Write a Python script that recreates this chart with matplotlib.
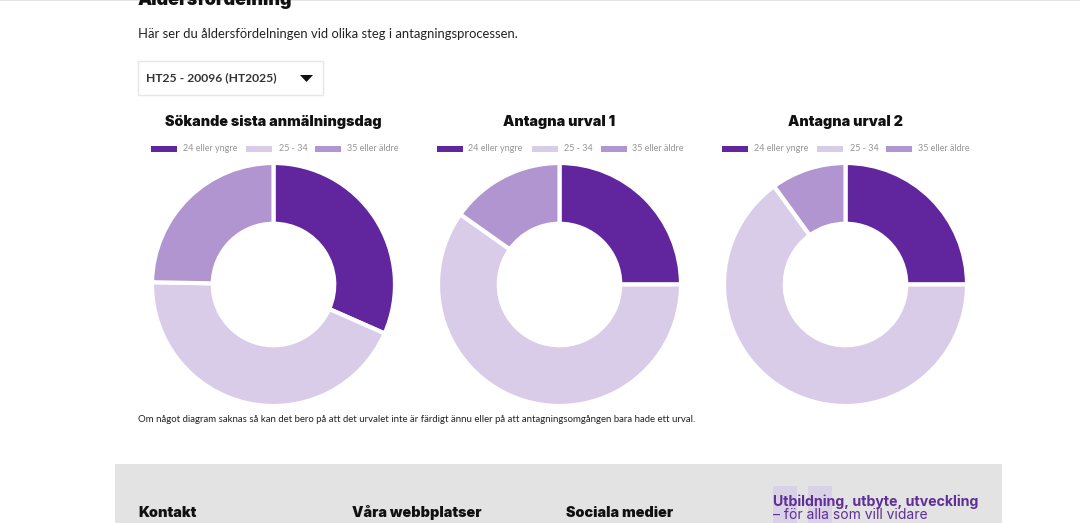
import matplotlib
matplotlib.use('Agg')
import matplotlib.pyplot as plt
from matplotlib.patches import Rectangle, Polygon

W, H = 1080, 523

chart_titles = ['Sökande sista anmälningsdag', 'Antagna urval 1', 'Antagna urval 2']
age_groups = ['24 eller yngre', '25 - 34', '35 eller äldre']
sokande = [31.6, 43.7, 24.7]
urval_1 = [25.0, 59.8, 15.2]
urval_2 = [25.0, 65.0, 10.0]
colors = ['#61269e', '#d9cce8', '#b095d0']

HEAD = 'Inter'
BODY = 'Lato'

fig = plt.figure(figsize=(W / 100, H / 100), dpi=100, facecolor='white')

# whole page as one pixel axes for the html bits around the charts
bg = fig.add_axes([0, 0, 1, 1])
bg.set_xlim(0, W)
bg.set_ylim(H, 0)
bg.axis('off')

bg.add_patch(Rectangle((0, 0), W, 1, color='#e4e4e4', lw=0))
bg.text(138, 5, 'Åldersfördelning', fontsize=12.9, fontweight='black', family=HEAD, color='#111111')
bg.text(138, 34, 'Här ser du åldersfördelningen vid olika steg i antagningsprocessen.',
        fontsize=9.36, family=BODY, color='#222222', va='center')

# dropdown
bg.add_patch(Rectangle((138, 61), 185, 34, fc='white', ec='#e6e6e6', lw=1))
bg.text(146, 78, 'HT25 - 20096 (HT2025)', fontsize=8.75, fontweight='bold', family=BODY,
        color='#333333', va='center')
bg.add_patch(Polygon([(300, 75), (313, 75), (306.5, 82)], color='#111111', lw=0))

# footer
bg.add_patch(Rectangle((115, 464), 887, 59, color='#e3e3e3', lw=0))
bg.add_patch(Rectangle((773, 486), 24, 37, color='#d9d2e6', lw=0))
bg.add_patch(Rectangle((808, 486), 24, 37, color='#d9d2e6', lw=0))
for x, s in [(138, 'Kontakt'), (352, 'Våra webbplatser'), (566, 'Sociala medier')]:
    bg.text(x, 513, s, fontsize=10.4, fontweight='black', family=HEAD, color='#111111', va='center')
bg.text(773, 502, 'Utbildning, utbyte, utveckling', fontsize=10.2, fontweight='bold', family=HEAD,
        color='#5f2e96', va='center')
bg.text(773, 515, '– för alla som vill vidare', fontsize=10, family=HEAD, color='#5f2e96', va='center')

bg.text(138, 419, 'Om något diagram saknas så kan det bero på att det urvalet inte är färdigt ännu '
        'eller på att antagningsomgången bara hade ett urval.',
        fontsize=6.92, family=BODY, color='#222222', va='center')

# the three donuts
series = [sokande, urval_1, urval_2]
centers = [(273.5, 284.5), (559.5, 284.5), (845.5, 284.5)]
R = 121.5
offsets = [0, 285.5, 571]
swatch_x = [151, 246, 315]
label_x = [183, 279, 347]

for i, vals in enumerate(series):
    cx, cy = centers[i]
    ax = fig.add_axes([(cx - R) / W, 1 - (cy + R) / H, 2 * R / W, 2 * R / H])
    ax.pie(vals, colors=colors, startangle=90, counterclock=False, radius=1,
           wedgeprops=dict(width=0.5, edgecolor='white', linewidth=3))
    ax.set_xlim(-1, 1)
    ax.set_ylim(-1, 1)
    ax.set_aspect('equal')

    bg.text(cx - 0.5, 122, chart_titles[i], fontsize=10.3, fontweight='black', family=HEAD,
            color='#111111', ha='center', va='center')
    for j, name in enumerate(age_groups):
        bg.add_patch(Rectangle((swatch_x[j] + offsets[i], 146), 26, 5.5, color=colors[j], lw=0))
        bg.text(label_x[j] + offsets[i], 148.5, name, fontsize=6.5, family=BODY, color='#959595', va='center')

fig.savefig('out.png', dpi=100)
